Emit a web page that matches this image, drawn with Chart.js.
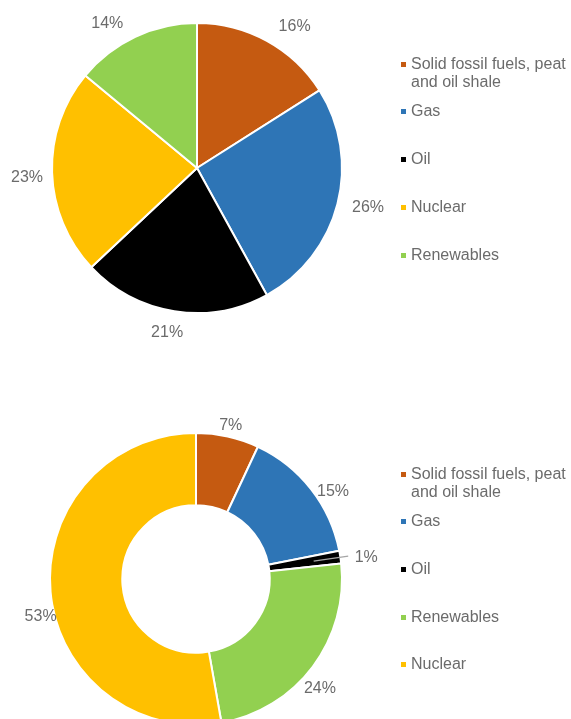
<!DOCTYPE html>
<html>
<head>
<meta charset="utf-8">
<script src="https://cdn.jsdelivr.net/npm/chart.js@4/dist/chart.umd.min.js"></script>
<style>
  html, body { margin: 0; padding: 0; background: #fff; overflow: hidden; }
  body { width: 571px; height: 719px; position: relative; font-family: "Liberation Sans", Arial, sans-serif; }
  canvas { position: absolute; left: 0; }
  #pieChart { top: 0; }
  #ringChart { top: 400px; }
  .legend { position: absolute; left: 400px; }
  .item { position: absolute; left: 0; width: 171px; }
  .box { position: absolute; left: 1px; top: 7px; width: 5px; height: 5px; }
  .txt { position: absolute; left: 11px; width: 160px; font-size: 16px; line-height: 18.5px; color: #6b6b6b; }
</style>
</head>
<body>
<canvas id="pieChart" width="571" height="340"></canvas>
<canvas id="ringChart" width="571" height="340"></canvas>
<div class="legend" id="pieLegend" style="top:54.8px"></div>
<div class="legend" id="ringLegend" style="top:464.6px"></div>
<script>
var pieLabels = ["Solid fossil fuels, peat and oil shale", "Gas", "Oil", "Nuclear", "Renewables"];
var pieValues = [16, 26, 21, 23, 14];
var pieColors = ["#C55A11", "#2E75B6", "#000000", "#FFC000", "#92D050"];

var ringLabels = ["Solid fossil fuels, peat and oil shale", "Gas", "Oil", "Renewables", "Nuclear"];
var ringValues = [7, 15, 1.4, 24, 53];
var ringColors = ["#C55A11", "#2E75B6", "#000000", "#92D050", "#FFC000"];

// percent labels outside the slices
var outLabels = {
    id: "outLabels",
    afterDatasetsDraw: function (chart, args, opts) {
        var ctx = chart.ctx;
        var meta = chart.getDatasetMeta(0);
        var data = chart.data.datasets[0].data;
        var total = data.reduce(function (a, b) { return a + b; }, 0);
        ctx.save();
        ctx.font = '16px "Liberation Sans", Arial, sans-serif';
        ctx.fillStyle = "#6b6b6b";
        ctx.textAlign = "center";
        ctx.textBaseline = "alphabetic";
        meta.data.forEach(function (arc, i) {
            var p = arc.getProps(["x", "y", "startAngle", "endAngle", "outerRadius"], true);
            var mid = (p.startAngle + p.endAngle) / 2;
            var r = p.outerRadius + opts.pad;
            var n = opts.nudge[i] || [0, 0];
            var x = p.x + Math.cos(mid) * r + n[0];
            var y = p.y + Math.sin(mid) * r + n[1];
            if (opts.leader === i) {
                ctx.strokeStyle = "#a6a6a6";
                ctx.lineWidth = 1.2;
                ctx.beginPath();
                ctx.moveTo(p.x + Math.cos(mid) * (p.outerRadius - 27), p.y + Math.sin(mid) * (p.outerRadius - 27));
                ctx.lineTo(x - 18, y);
                ctx.stroke();
            }
            ctx.fillText(Math.round(data[i] / total * 100) + "%", x, y + 5.7);
        });
        ctx.restore();
    }
};

function makeLegend(id, labels, colors) {
    var el = document.getElementById(id);
    labels.forEach(function (lab, i) {
        var item = document.createElement("div");
        item.className = "item";
        item.style.top = (i * 47.7) + "px";
        item.innerHTML = '<span class="box" style="background:' + colors[i] + '"></span><span class="txt">' + lab + '</span>';
        el.appendChild(item);
    });
}

new Chart("pieChart", {
    type: "pie",
    data: {
        labels: pieLabels,
        datasets: [{
            data: pieValues,
            backgroundColor: pieColors,
            borderColor: "#ffffff",
            borderWidth: 2,
            hoverOffset: 0
        }]
    },
    options: {
        responsive: false,
        animation: false,
        events: [],
        layout: {
            padding: { left: 51, top: 22, right: 228, bottom: 26 }
        },
        plugins: {
            legend: { display: false },
            tooltip: { enabled: false },
            outLabels: {
                pad: 14,
                nudge: [[21, -3], [17, -1], [-5, 6], [-11, 3], [-22, -2]]
            }
        }
    },
    plugins: [outLabels]
});

new Chart("ringChart", {
    type: "doughnut",
    data: {
        labels: ringLabels,
        datasets: [{
            data: ringValues,
            backgroundColor: ringColors,
            borderColor: "#ffffff",
            borderWidth: 2,
            hoverOffset: 0
        }]
    },
    options: {
        responsive: false,
        animation: false,
        events: [],
        cutout: "50.5%",
        layout: {
            padding: { left: 49, top: 32, right: 228, bottom: 14 }
        },
        plugins: {
            legend: { display: false },
            tooltip: { enabled: false },
            outLabels: {
                pad: 14,
                leader: 2,
                nudge: [[0, 1], [11, 10], [12, 1], [-4, 12], [4, 22]]
            }
        }
    },
    plugins: [outLabels]
});

makeLegend("pieLegend", pieLabels, pieColors);
makeLegend("ringLegend", ringLabels, ringColors);
</script>
</body>
</html>
